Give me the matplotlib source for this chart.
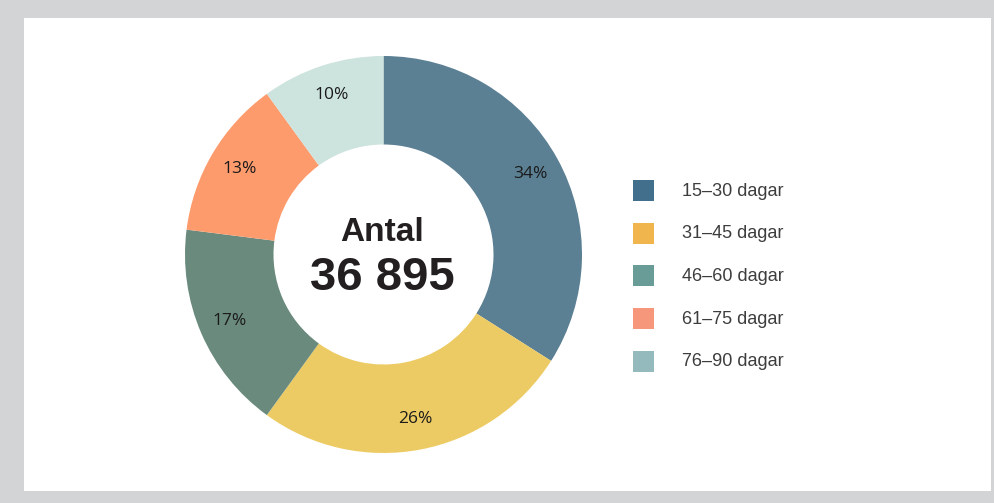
import matplotlib.pyplot as plt
from matplotlib.patches import Rectangle

# data
shares = [34, 26, 17, 13, 10]
labels = ['15–30 dagar', '31–45 dagar', '46–60 dagar', '61–75 dagar', '76–90 dagar']
pie_colors = ['#5b7f93', '#edcb64', '#6a8a7d', '#fe9b6d', '#cde3de']
legend_colors = ['#416f8c', '#f0b64d', '#6a9c97', '#f6977b', '#94babd']
total = '36 895'

W, H = 995, 503
fig = plt.figure(figsize=(W / 100, H / 100), dpi=100)
fig.patch.set_facecolor('#d3d4d6')

# background + legend in pixel coords
bg = fig.add_axes([0, 0, 1, 1])
bg.set_xlim(0, W)
bg.set_ylim(H, 0)
bg.axis('off')
bg.add_patch(Rectangle((24, 18), 967, 473, facecolor='white', edgecolor='none'))

for i, (lab, col) in enumerate(zip(labels, legend_colors)):
    y0 = 180 + i * 42.7
    bg.add_patch(Rectangle((633, y0), 21, 21, facecolor=col, edgecolor='none'))
    bg.text(682, y0 + 11, lab, fontsize=13, family='Liberation Sans',
            color='#3d3d3d', va='center', ha='left')

# donut
cx, cy, R = 383.5, 254.5, 198.5
ax = fig.add_axes([(cx - 200) / W, (H - cy - 200) / H, 400 / W, 400 / H])
wedges, texts, autotexts = ax.pie(
    shares, colors=pie_colors, startangle=90, counterclock=False,
    radius=R, wedgeprops=dict(width=88.5, linewidth=0),
    autopct='%.0f%%', pctdistance=0.845,
    textprops=dict(fontsize=12.5, family='Open Sans', color='#1a1a1a'))
ax.set_xlim(-200, 200)
ax.set_ylim(-200, 200)
ax.set_aspect('equal')
ax.axis('off')

ax.text(-1, 22, 'Antal', fontsize=24, fontweight='bold', family='Liberation Sans',
        color='#231f20', ha='center', va='center')
ax.text(-1, -23, total, fontsize=34, fontweight='bold', family='Liberation Sans',
        color='#231f20', ha='center', va='center')

fig.savefig('out.png', dpi=100, facecolor=fig.get_facecolor())
